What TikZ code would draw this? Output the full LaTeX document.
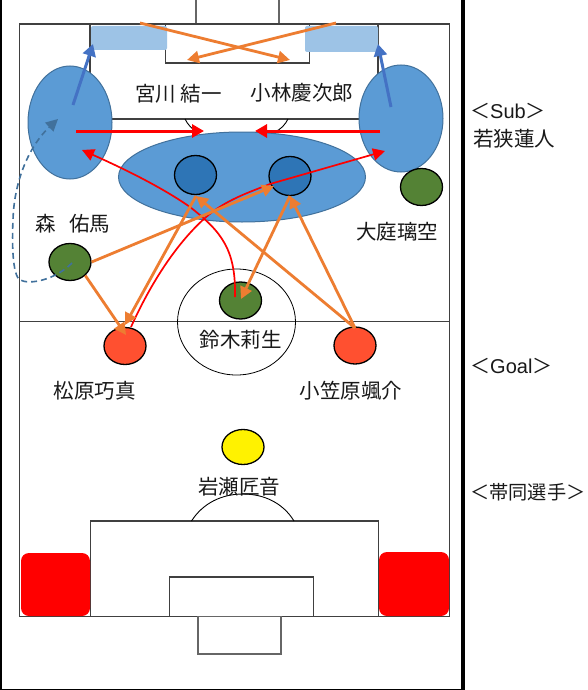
\documentclass[tikz,border=0pt]{standalone}
\usepackage{fontspec}
\setmainfont{Liberation Sans}
\newfontfamily\cjk{Noto Sans CJK JP}
\usetikzlibrary{shapes.geometric,arrows.meta}
\definecolor{orangeA}{HTML}{ED7D31}
\definecolor{blueA}{HTML}{5B9BD5}
\definecolor{blueB}{HTML}{2E75B6}
\definecolor{blueEdge}{HTML}{41719C}
\definecolor{blueArrow}{HTML}{4472C4}
\definecolor{lightB}{HTML}{9DC3E6}
\definecolor{greenA}{HTML}{548235}
\definecolor{redA}{HTML}{FF5030}
\tikzset{
 x=1pt,y=-1pt,
 pitch/.style={draw=black!75,line width=1.1pt},
 zonebig/.style={ellipse,draw=blueEdge,line width=1pt,fill=blueA,inner sep=0pt},
 player/.style={ellipse,draw=black,line width=1.3pt,inner sep=0pt,minimum width=42pt,minimum height=37pt},
 plname/.style={font=\cjk\fontsize{20.5}{22}\selectfont,inner sep=0pt,text=black!90},
 sidetext/.style={font=\fontsize{20}{22}\selectfont,inner sep=0pt,anchor=west,text=black!90},
 redpad/.style={rounded corners=8pt,fill=red},
 oarrow/.style={draw=orangeA,line width=2.8pt,-{Triangle[length=12pt,width=12pt]}},
 rarrow/.style={draw=red,line width=3pt,-{Triangle[length=12pt,width=13pt]}},
 rthin/.style={draw=red,line width=1.7pt,-{Triangle[length=12pt,width=12pt]}},
 barrow/.style={draw=blueArrow,line width=3pt,-{Triangle[length=12pt,width=13pt]}},
 darrow/.style={draw=blueEdge,line width=1.6pt,dash pattern=on 6pt off 4pt,-{Triangle[length=12pt,width=12pt]}},
}
\begin{document}
\begin{tikzpicture}
\useasboundingbox (0,0) rectangle (587,690);
\fill[white] (0,0) rectangle (587,690);
% frame
\draw[black,line width=2pt] (1,0) -- (1,690);
\draw[black,line width=4pt] (463,0) -- (463,690);
\draw[black,line width=1.4pt] (0,689.3) -- (465,689.3);
% pitch
\draw[pitch] (19.5,24) rectangle (449.5,616.5);
\draw[pitch,line width=.9pt] (19.5,321) -- (449.5,321);
\draw[pitch,draw=black!60] (196,24) -- (196,0);
\draw[pitch,draw=black!60] (279,24) -- (279,0);
\draw[pitch] (90,24) rectangle (378,119);
\draw[pitch] (165.5,24) rectangle (309.5,63);
\draw[black,line width=.9pt] (185,119) .. controls (188,125) and (192,129) .. (197,132);
\draw[black,line width=.9pt] (288,119) .. controls (285,125) and (281,129) .. (275,132);
\draw[pitch] (90.5,521) rectangle (378.5,616.5);
\draw[pitch] (169.5,577) rectangle (313.5,616.5);
\draw[pitch,draw=black!60] (198,616.5) rectangle (281,654);
\draw[black,line width=.9pt] (191.5,521) .. controls (203,503) and (222,494) .. (243,494) .. controls (264,494) and (283,503) .. (294,521);
\draw[black,line width=.8pt] (236.5,322) ellipse [x radius=59,y radius=53];
% pads
\fill[redpad] (21,553) rectangle (90,616);
\fill[redpad] (379,552) rectangle (449,616);
\fill[lightB,rounded corners=2pt] (91,26) rectangle (167,50);
\fill[lightB,rounded corners=2pt] (305,26) rectangle (378,52);
% zones
\node[zonebig,minimum width=84pt,minimum height=113pt] (zl) at (70,122.5) {};
\node[zonebig,minimum width=84pt,minimum height=107pt] (zr) at (401,118.5) {};
\node[zonebig,minimum width=247pt,minimum height=90pt] (zc) at (242,177) {};
% players
\node[player,fill=blueB,minimum height=39pt] (miyagawa) at (195.5,175) {};
\node[player,fill=blueB,minimum height=39pt] (kobayashi) at (290,176) {};
\node[player,fill=greenA] (oba) at (421.5,187) {};
\node[player,fill=greenA] (mori) at (70,262) {};
\node[player,fill=greenA] (suzuki) at (240.5,300.5) {};
\node[player,fill=redA] (matsubara) at (125,346) {};
\node[player,fill=redA] (ogasawara) at (355,345.5) {};
\node[player,fill=yellow,minimum height=35pt] (iwase) at (243,447) {};
% names
\node[plname] (n1) at (178.5,94) {宮川 結一};
\node[plname] (n2) at (302,92.5) {小林慶次郎};
\node[plname] (n3) at (73,223.5) {森\hspace{13pt}佑馬};
\node[plname] (n4) at (397,232) {大庭璃空};
\node[plname] (n5) at (240.5,340) {鈴木莉生};
\node[plname] (n6) at (94.5,391) {松原巧真};
\node[plname] (n7) at (351,390.5) {小笠原颯介};
\node[plname] (n8) at (239,487) {岩瀬匠音};
\node[sidetext] (s1) at (470,111) {{\cjk ＜}Sub{\cjk ＞}};
\node[plname,anchor=west] (s2) at (473,138.5) {若狭蓮人};
\node[sidetext] (s3) at (470,366) {{\cjk ＜}Goal{\cjk ＞}};
\node[sidetext] (s4) at (470,492) {{\cjk\fontsize{19.2}{22}\selectfont ＜帯同選手＞}};
% anchor points
\coordinate (topL) at (140,23);
\coordinate (topR) at (336,23);
\coordinate (goalL) at (290,60);
\coordinate (goalR) at (187,60);
\coordinate (padL) at (93,44);
\coordinate (padR) at (378,44);
\coordinate (zlA) at (73,105);
\coordinate (zrA) at (391,107);
\coordinate (zlB) at (76,131);
\coordinate (zrB) at (380,131);
\coordinate (cL) at (204,131);
\coordinate (cR) at (255,131);
\coordinate (zlC) at (82,150);
\coordinate (zrC) at (385,151);
\coordinate (suzT) at (235,297);
\coordinate (suzH) at (241,299);
\coordinate (matT) at (131,327);
\coordinate (matH) at (125,325);
\coordinate (matH2) at (126,335);
\coordinate (ogaT) at (355,328);
\coordinate (miyH) at (196,196);
\coordinate (miyS) at (196,196);
\coordinate (kobH) at (290,196);
\coordinate (kobS) at (290,196);
\coordinate (kobW) at (274,186);
\coordinate (morT) at (72,263);
\coordinate (zlD) at (58,119);
% arrows
\draw[barrow] (zlA) -- (padL);
\draw[barrow] (zrA) -- (padR);
\draw[oarrow] (topL) -- (goalL);
\draw[oarrow] (topR) -- (goalR);
\draw[rarrow] (zlB) -- (cL);
\draw[rarrow] (zrB) -- (cR);
\draw[rthin] (suzT) .. controls (236,250) and (222,232) .. (190,207) .. controls (160,186) and (120,167) .. (zlC);
\draw[rthin] (matT) .. controls (150,285) and (175,245) .. (205,218) .. controls (225,200) and (250,192) .. (270,184) -- (zrC);
\draw[oarrow] (miyS) -- (matH);
\draw[oarrow] (ogaT) -- (miyH);
\draw[oarrow] (ogaT) -- (kobH);
\draw[oarrow] (kobS) -- (suzH);
\draw[oarrow] (mori.east) -- (kobW);
\draw[oarrow] (mori.south east) -- (matH2);
\draw[darrow] (morT) .. controls (55,280) and (30,285) .. (20,280) .. controls (12,275) and (12,240) .. (13,220) .. controls (14,180) and (30,145) .. (zlD);
\end{tikzpicture}
\end{document}
